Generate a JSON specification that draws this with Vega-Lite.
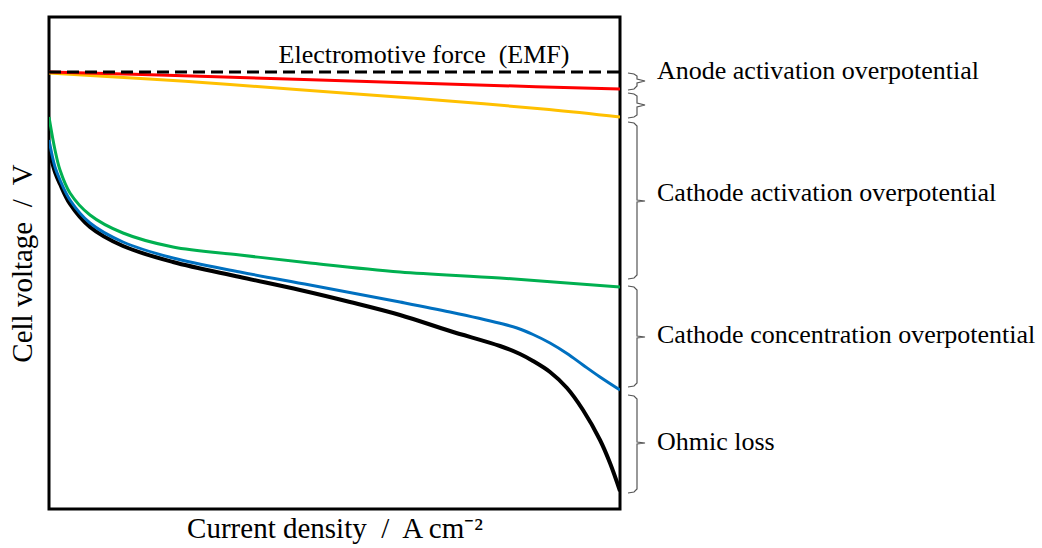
{
  "$schema": "https://vega.github.io/schema/vega-lite/v6.json",
  "autosize": {"type": "none"},
  "padding": {"left": 49, "top": 17, "right": 422, "bottom": 39},
  "width": 571,
  "height": 492,
  "config": {
    "view": {"stroke": "black", "strokeWidth": 3},
    "font": "Liberation Serif"
  },
  "datasets": {
    "curves": [
      {"s": "emf", "x": 0, "y": 437}, {"s": "emf", "x": 571, "y": 437},
      {"s": "red", "x": 0, "y": 437}, {"s": "red", "x": 143, "y": 433}, {"s": "red", "x": 286, "y": 428.5}, {"s": "red", "x": 429, "y": 424}, {"s": "red", "x": 571, "y": 420},
      {"s": "orange", "x": 0, "y": 436}, {"s": "orange", "x": 100, "y": 430}, {"s": "orange", "x": 181, "y": 424.5}, {"s": "orange", "x": 301, "y": 415.5}, {"s": "orange", "x": 400, "y": 408}, {"s": "orange", "x": 500, "y": 399.5}, {"s": "orange", "x": 571, "y": 392},
      {"s": "green", "x": 0, "y": 392}, {"s": "green", "x": 6, "y": 359}, {"s": "green", "x": 11, "y": 339}, {"s": "green", "x": 21, "y": 316}, {"s": "green", "x": 41, "y": 294}, {"s": "green", "x": 74, "y": 276}, {"s": "green", "x": 124, "y": 262}, {"s": "green", "x": 191, "y": 254}, {"s": "green", "x": 261, "y": 246}, {"s": "green", "x": 351, "y": 237}, {"s": "green", "x": 451, "y": 231}, {"s": "green", "x": 571, "y": 222},
      {"s": "blue", "x": 0, "y": 369}, {"s": "blue", "x": 6, "y": 342}, {"s": "blue", "x": 11, "y": 329}, {"s": "blue", "x": 21, "y": 309}, {"s": "blue", "x": 41, "y": 286}, {"s": "blue", "x": 74, "y": 267}, {"s": "blue", "x": 124, "y": 251}, {"s": "blue", "x": 191, "y": 237}, {"s": "blue", "x": 261, "y": 224}, {"s": "blue", "x": 351, "y": 207}, {"s": "blue", "x": 401, "y": 197}, {"s": "blue", "x": 451, "y": 185.7}, {"s": "blue", "x": 468, "y": 181}, {"s": "blue", "x": 484, "y": 174.5}, {"s": "blue", "x": 501, "y": 166}, {"s": "blue", "x": 518, "y": 155.5}, {"s": "blue", "x": 534, "y": 144}, {"s": "blue", "x": 551, "y": 132}, {"s": "blue", "x": 571, "y": 119},
      {"s": "black", "x": 0, "y": 359}, {"s": "black", "x": 6, "y": 337}, {"s": "black", "x": 11, "y": 325}, {"s": "black", "x": 21, "y": 305}, {"s": "black", "x": 41, "y": 282}, {"s": "black", "x": 74, "y": 263}, {"s": "black", "x": 124, "y": 247}, {"s": "black", "x": 191, "y": 232}, {"s": "black", "x": 251, "y": 219}, {"s": "black", "x": 301, "y": 207}, {"s": "black", "x": 351, "y": 194}, {"s": "black", "x": 401, "y": 178}, {"s": "black", "x": 451, "y": 163}, {"s": "black", "x": 471, "y": 155}, {"s": "black", "x": 484, "y": 148}, {"s": "black", "x": 501, "y": 137}, {"s": "black", "x": 518, "y": 121}, {"s": "black", "x": 534, "y": 99}, {"s": "black", "x": 551, "y": 69}, {"s": "black", "x": 561, "y": 46}, {"s": "black", "x": 571, "y": 18}
    ],
    "braces": [
      {"b": "b1", "o": 0, "x": 579, "y": 436}, {"b": "b1", "o": 1, "x": 585, "y": 435}, {"b": "b1", "o": 2, "x": 588, "y": 433}, {"b": "b1", "o": 3, "x": 588, "y": 430}, {"b": "b1", "o": 4, "x": 596, "y": 428}, {"b": "b1", "o": 5, "x": 588, "y": 426}, {"b": "b1", "o": 6, "x": 588, "y": 423}, {"b": "b1", "o": 7, "x": 585, "y": 420}, {"b": "b1", "o": 8, "x": 579, "y": 419},
      {"b": "b2", "o": 0, "x": 579, "y": 416}, {"b": "b2", "o": 1, "x": 585, "y": 415}, {"b": "b2", "o": 2, "x": 588, "y": 413}, {"b": "b2", "o": 3, "x": 588, "y": 406}, {"b": "b2", "o": 4, "x": 596, "y": 404}, {"b": "b2", "o": 5, "x": 588, "y": 402}, {"b": "b2", "o": 6, "x": 588, "y": 394}, {"b": "b2", "o": 7, "x": 585, "y": 392}, {"b": "b2", "o": 8, "x": 579, "y": 391},
      {"b": "b3", "o": 0, "x": 579, "y": 387}, {"b": "b3", "o": 1, "x": 585, "y": 386}, {"b": "b3", "o": 2, "x": 588, "y": 383}, {"b": "b3", "o": 3, "x": 588, "y": 309}, {"b": "b3", "o": 4, "x": 596, "y": 308}, {"b": "b3", "o": 5, "x": 588, "y": 307}, {"b": "b3", "o": 6, "x": 588, "y": 234}, {"b": "b3", "o": 7, "x": 585, "y": 231}, {"b": "b3", "o": 8, "x": 579, "y": 230},
      {"b": "b4", "o": 0, "x": 579, "y": 223}, {"b": "b4", "o": 1, "x": 585, "y": 222}, {"b": "b4", "o": 2, "x": 588, "y": 219}, {"b": "b4", "o": 3, "x": 588, "y": 173}, {"b": "b4", "o": 4, "x": 596, "y": 172}, {"b": "b4", "o": 5, "x": 588, "y": 171}, {"b": "b4", "o": 6, "x": 588, "y": 126}, {"b": "b4", "o": 7, "x": 585, "y": 123}, {"b": "b4", "o": 8, "x": 579, "y": 122},
      {"b": "b5", "o": 0, "x": 579, "y": 114}, {"b": "b5", "o": 1, "x": 585, "y": 113}, {"b": "b5", "o": 2, "x": 588, "y": 110}, {"b": "b5", "o": 3, "x": 588, "y": 67}, {"b": "b5", "o": 4, "x": 596, "y": 66}, {"b": "b5", "o": 5, "x": 588, "y": 65}, {"b": "b5", "o": 6, "x": 588, "y": 20}, {"b": "b5", "o": 7, "x": 585, "y": 17}, {"b": "b5", "o": 8, "x": 579, "y": 16}
    ],
    "labels": [
      {"t": "Anode activation overpotential", "x": 608, "y": 430},
      {"t": "Cathode activation overpotential", "x": 608, "y": 308},
      {"t": "Cathode concentration overpotential", "x": 608, "y": 166},
      {"t": "Ohmic loss", "x": 608, "y": 59}
    ],
    "emf": [
      {"t": "Electromotive force\u00a0 (EMF)", "x": 375, "y": 446}
    ]
  },
  "layer": [
    {
      "data": {"name": "curves"},
      "transform": [{"filter": "datum.s === 'black'"}],
      "mark": {"type": "line", "color": "black", "strokeWidth": 4, "interpolate": "catmull-rom", "clip": true},
      "encoding": {
        "x": {"field": "x", "type": "quantitative", "scale": {"domain": [0, 571], "nice": false, "zero": false},
          "axis": {"title": "Current density\u00a0 /\u00a0 A cm\u207b\u00b2", "domain": false, "ticks": false, "labels": false, "grid": false, "titleFont": "Liberation Serif", "titleFontSize": 29, "titleFontWeight": "normal", "titleColor": "black", "titlePadding": 5}},
        "y": {"field": "y", "type": "quantitative", "scale": {"domain": [0, 492], "nice": false, "zero": false},
          "axis": {"title": "Cell voltage\u00a0 /\u00a0 V", "domain": false, "ticks": false, "labels": false, "grid": false, "titleFont": "Liberation Serif", "titleFontSize": 29, "titleFontWeight": "normal", "titleColor": "black", "titlePadding": 12}}
      }
    },
    {
      "data": {"name": "curves"},
      "transform": [{"filter": "datum.s === 'blue'"}],
      "mark": {"type": "line", "color": "#0070C0", "strokeWidth": 3, "interpolate": "catmull-rom", "clip": true},
      "encoding": {"x": {"field": "x", "type": "quantitative"}, "y": {"field": "y", "type": "quantitative"}}
    },
    {
      "data": {"name": "curves"},
      "transform": [{"filter": "datum.s === 'green'"}],
      "mark": {"type": "line", "color": "#00B050", "strokeWidth": 3, "interpolate": "catmull-rom", "clip": true},
      "encoding": {"x": {"field": "x", "type": "quantitative"}, "y": {"field": "y", "type": "quantitative"}}
    },
    {
      "data": {"name": "curves"},
      "transform": [{"filter": "datum.s === 'orange'"}],
      "mark": {"type": "line", "color": "#FFC000", "strokeWidth": 3, "interpolate": "catmull-rom", "clip": true},
      "encoding": {"x": {"field": "x", "type": "quantitative"}, "y": {"field": "y", "type": "quantitative"}}
    },
    {
      "data": {"name": "curves"},
      "transform": [{"filter": "datum.s === 'red'"}],
      "mark": {"type": "line", "color": "#FF0000", "strokeWidth": 3, "interpolate": "catmull-rom", "clip": true},
      "encoding": {"x": {"field": "x", "type": "quantitative"}, "y": {"field": "y", "type": "quantitative"}}
    },
    {
      "data": {"name": "curves"},
      "transform": [{"filter": "datum.s === 'emf'"}],
      "mark": {"type": "line", "color": "black", "strokeWidth": 3, "strokeDash": [12, 6], "clip": true},
      "encoding": {"x": {"field": "x", "type": "quantitative"}, "y": {"field": "y", "type": "quantitative"}}
    },
    {
      "data": {"name": "braces"},
      "mark": {"type": "line", "color": "#555555", "strokeWidth": 1.2, "clip": false},
      "encoding": {
        "x": {"field": "x", "type": "quantitative"},
        "y": {"field": "y", "type": "quantitative"},
        "detail": {"field": "b"},
        "order": {"field": "o", "type": "quantitative"}
      }
    },
    {
      "data": {"name": "labels"},
      "mark": {"type": "text", "align": "left", "baseline": "alphabetic", "font": "Liberation Serif", "fontSize": 26, "color": "black", "clip": false},
      "encoding": {
        "x": {"field": "x", "type": "quantitative"},
        "y": {"field": "y", "type": "quantitative"},
        "text": {"field": "t"}
      }
    },
    {
      "data": {"name": "emf"},
      "mark": {"type": "text", "align": "center", "baseline": "alphabetic", "font": "Liberation Serif", "fontSize": 26, "color": "black"},
      "encoding": {
        "x": {"field": "x", "type": "quantitative"},
        "y": {"field": "y", "type": "quantitative"},
        "text": {"field": "t"}
      }
    }
  ]
}
